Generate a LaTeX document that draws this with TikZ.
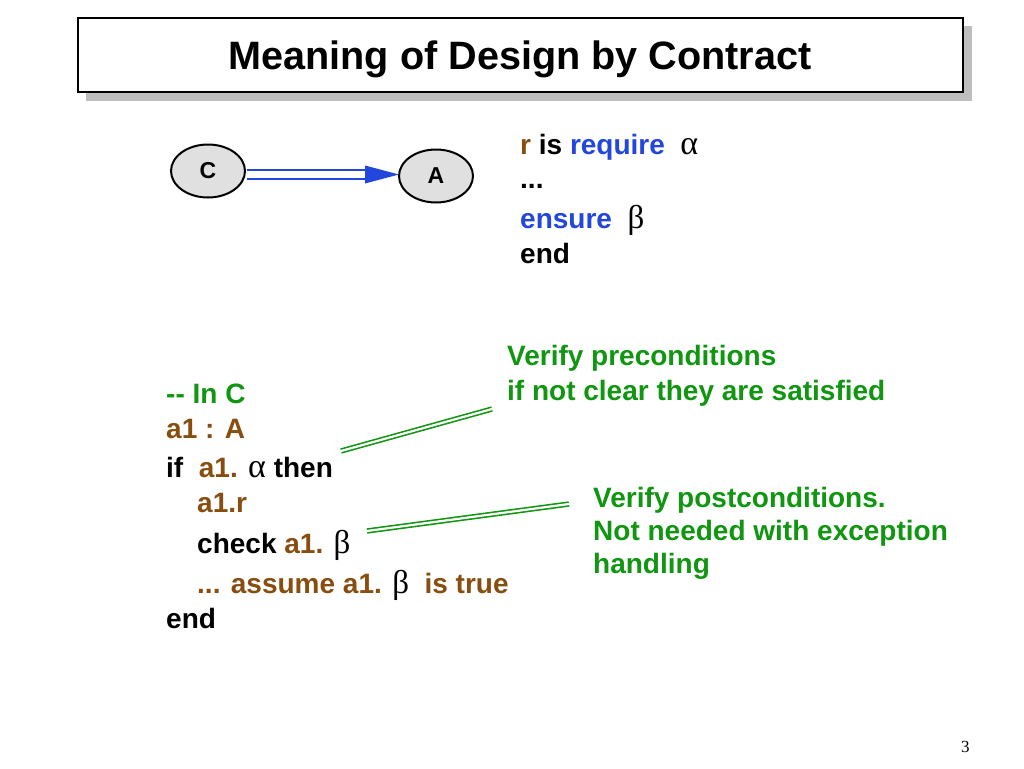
\documentclass[tikz,border=0pt]{standalone}
\usepackage{fontspec}
\setmainfont{Liberation Sans}
\newfontfamily\grk{Liberation Serif}
\usetikzlibrary{shapes.geometric}
\definecolor{grn}{RGB}{16,150,16}
\definecolor{brn}{RGB}{135,78,16}
\definecolor{blu}{RGB}{35,70,220}
\definecolor{shadowgray}{RGB}{190,190,190}
\definecolor{nodegray}{RGB}{224,224,224}
\newcommand{\al}{{\normalfont\grk\fontsize{34}{34}\selectfont α}}
\newcommand{\be}{{\normalfont\grk\fontsize{33}{33}\selectfont β}}
\begin{document}
\begin{tikzpicture}[x=1pt,y=-1pt,
  txt/.style={anchor=base west,inner sep=0pt,font=\fontsize{28}{33}\selectfont\bfseries},
  ell/.style={ellipse,draw=black,line width=2pt,fill=nodegray,minimum width=74pt,minimum height=53pt,inner sep=0pt,font=\fontsize{23}{23}\selectfont\bfseries},
  shaft/.style={draw=blu,line width=1.4pt,double=white,double distance=7.6pt},
  callout/.style={draw=grn,line width=1.6pt,double=white,double distance=2.2pt}]
\useasboundingbox (0,0) rectangle (1024,768);
\fill[white] (0,0) rectangle (1024,768);
% title
\fill[shadowgray] (86,26) rectangle (972,101);
\node[draw=black,line width=1.5pt,fill=white,minimum width=885pt,minimum height=74pt,inner sep=0pt] (titlebox) at (520.5,55) {};
\node[anchor=base,inner sep=0pt,font=\fontsize{39.6}{40}\selectfont\bfseries] (title) at (520,70) {Meaning of Design by Contract};
% C -> A
\node[ell] (C) at (208,171) {C};
\node[ell] (A) at (436,176) {A};
\coordinate (s) at (247,174.5);
\coordinate (t) at (399,174.5);
\draw[shaft,shorten >=33pt] (s) -- (t);
\fill[blu] (t) -- ++(-34,-9) -- ++(0,18) -- cycle;
% right code
\node[txt] (r1) at (520,154) {\textcolor{brn}{r} is \textcolor{blu}{require}\ \ \al};
\node[txt] (r2) at (520,188) {...};
\node[txt] (r3) at (520,228) {\textcolor{blu}{ensure}\ \ \be};
\node[txt] (r4) at (520,263) {end};
% callouts
\node[txt,text=grn] (v1) at (507,365) {Verify preconditions};
\node[txt,text=grn] (v2) at (507,400) {if not clear they are satisfied};
\node[txt,text=grn] (w1) at (593,507) {Verify postconditions.};
\node[txt,text=grn] (w2) at (593,540) {Not needed with exception};
\node[txt,text=grn] (w3) at (593,573) {handling};
% left code
\node[txt,text=grn] (l1) at (166,403) {-{}- In C};
\node[txt,text=brn] (l2) at (166,438) {a1 : A};
\node[txt] (l3) at (166,477) {if\ \ \textcolor{brn}{a1.} \al\ then};
\node[txt,text=brn] (l4) at (197,512) {a1.r};
\node[txt] (l5) at (197,553) {check \textcolor{brn}{a1.} \be};
\node[txt,text=brn] (l6) at (197,593) {... assume a1. \textcolor{black}{\be}\ \ is true};
\node[txt] (l7) at (166,628) {end};
% connectors
\coordinate (p1) at (341,451);
\coordinate (p2) at (492,409);
\coordinate (q1) at (367,531);
\coordinate (q2) at (569,504);
\draw[callout] (p1) -- (p2);
\draw[callout] (q1) -- (q2);
% page number
\node[anchor=base west,inner sep=0pt,font=\grk\fontsize{17}{17}\selectfont] (pg) at (961,752) {3};
\end{tikzpicture}
\end{document}
